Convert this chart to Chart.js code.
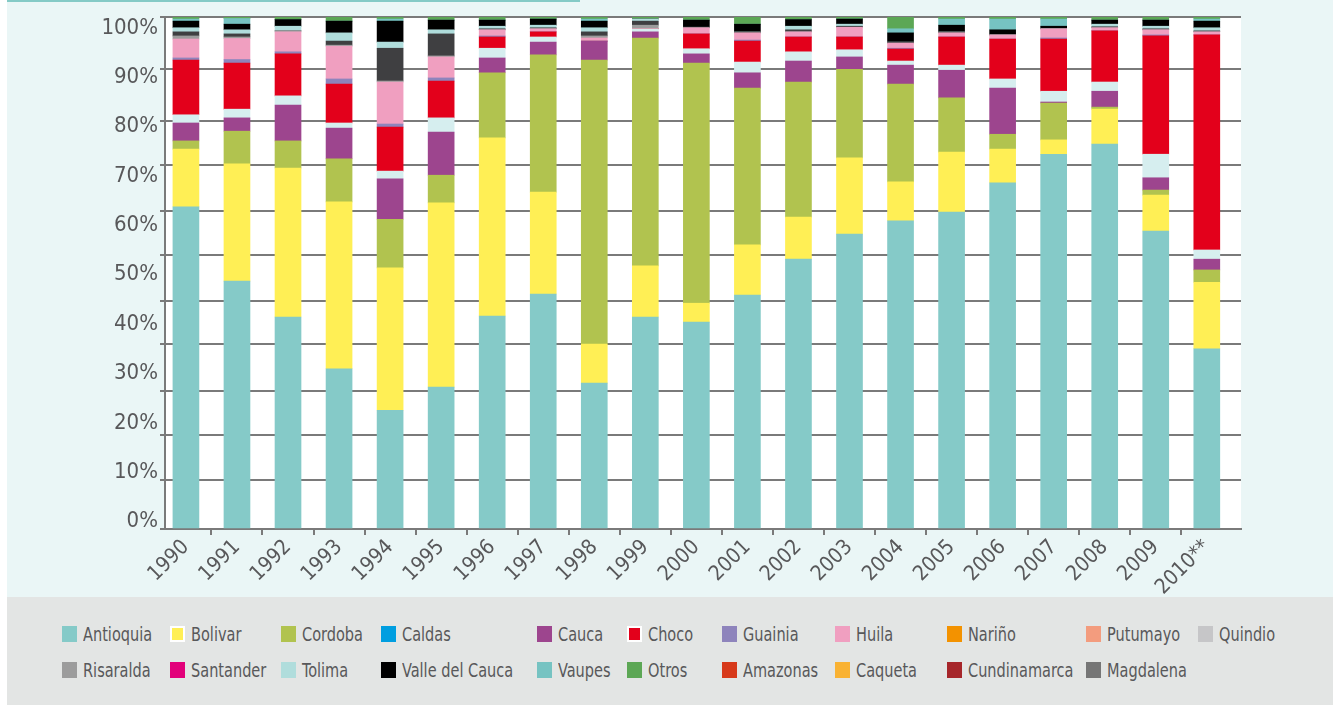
<!DOCTYPE html>
<html>
<head>
<meta charset="utf-8">
<title>Participación departamental</title>
<script src="https://cdn.jsdelivr.net/npm/chart.js@4.4.1/dist/chart.umd.min.js"></script>
<style>
  html, body { margin: 0; padding: 0; background: #fff; }
  body {
    width: 1342px; height: 705px; position: relative; overflow: hidden;
    font-family: 'DejaVu Sans Condensed', 'Liberation Sans Narrow', sans-serif;
  }
  #panel { position: absolute; left: 7px; top: 0; width: 1326px; height: 597px; background: #eaf6f6; }
  #topline { position: absolute; left: 7px; top: 0; width: 573px; height: 2px; background: #84cac6; }
  #chartBox { position: absolute; left: 7px; top: 0; width: 1326px; height: 597px; }
  #legendPanel { position: absolute; left: 7px; top: 597px; width: 1326px; height: 108px; background: #e3e5e4; }
  #legend {
    position: absolute; left: 55px; top: 19px;
    display: grid;
    grid-template-columns: 108px 111px 100px 156px 90px 95px 113px 112px 139px 112px auto;
    grid-auto-rows: 36px;
  }
  .item { display: flex; align-items: center; font-size: 19px; color: #58585a; white-space: nowrap; }
  .item .name { display: inline-block; transform: scaleX(0.85); transform-origin: left center; }
  .swatch { width: 15px; height: 16px; margin-right: 6px; box-sizing: border-box; flex: none; }
  .swatch.outlined { border: 2px solid #fff; }
</style>
</head>
<body>
<div id="panel"></div>
<div id="topline"></div>
<div id="chartBox"><canvas id="barChart"></canvas></div>
<div id="legendPanel"><div id="legend"></div></div>

<script>
// categories
const years = ["1990", "1991", "1992", "1993", "1994", "1995", "1996", "1997", "1998", "1999",
  "2000", "2001", "2002", "2003", "2004", "2005", "2006", "2007", "2008", "2009", "2010**"];

// axis ticks
const yTickValues = [0, 10, 20, 30, 40, 50, 60, 70, 80, 90, 100];
const yGridValues = [0, 9.6, 18.4, 26.9, 36.1, 44.5, 53.5, 62.1, 71.1, 79.7, 89.8, 100];

// share of each department per year (%), bottom of the stack first
const antioquia = [62.9, 48.4, 41.4, 31.3, 23.2, 27.7, 41.6, 45.9, 28.5, 41.4, 40.4, 45.7, 52.7, 57.6, 60.2, 61.9, 67.6, 73.2, 75.2, 58.2, 35.2];
const bolivar   = [11.3, 22.9, 29.1, 32.6, 27.8, 36.0, 34.8, 19.9, 7.6, 10.0, 3.7, 9.8, 8.2, 14.9, 7.6, 11.7, 6.6, 2.8, 6.8, 7.0, 13.0];
const cordoba   = [1.6, 6.4, 5.3, 8.4, 9.5, 5.4, 12.7, 26.8, 55.5, 44.5, 46.9, 30.6, 26.4, 17.3, 19.1, 10.6, 2.9, 7.2, 0.4, 1.0, 2.4];
const cauca     = [3.5, 2.6, 7.0, 6.0, 7.9, 8.4, 2.9, 2.5, 3.7, 1.2, 1.8, 3.0, 4.1, 2.4, 3.7, 5.4, 9.0, 0.2, 3.1, 2.4, 2.1];
const caldas    = [1.6, 1.7, 1.8, 1.0, 1.5, 2.8, 1.9, 1.0, 0, 0.6, 1.0, 2.1, 1.8, 1.4, 0.8, 1.0, 1.8, 2.1, 1.8, 4.6, 1.8];
const choco     = [10.7, 9.0, 8.2, 7.6, 8.6, 7.2, 2.2, 1.0, 0, 0, 2.9, 4.1, 2.9, 2.5, 2.35, 5.5, 7.8, 10.2, 10.0, 23.1, 42.0];
const guainia   = [0.4, 0.7, 0.4, 1.0, 0.6, 0.6, 0.2, 0, 0, 0, 0, 0.2, 0, 0, 0.15, 0, 0, 0.2, 0, 0.2, 0];
const huila     = [3.7, 4.1, 3.9, 6.4, 8.2, 4.1, 1.2, 0.6, 0.6, 0, 1.2, 1.4, 1.0, 1.9, 1.0, 0.8, 0.8, 1.8, 0.6, 1.0, 0.6];
const risaralda = [0.6, 0.3, 0.2, 0.2, 0.2, 0.2, 0, 0, 0.4, 0.7, 0, 0, 0, 0, 0, 0, 0, 0, 0, 0, 0];
const magdalena = [0.8, 0.6, 0, 0.8, 6.4, 4.3, 0.2, 0.2, 0.8, 0.8, 0.1, 0.2, 0.4, 0.2, 0.2, 0.2, 0, 0, 0.2, 0.2, 0.2];
const tolima    = [0.8, 0.8, 0.9, 1.6, 1.2, 0.8, 0.5, 0.5, 0.8, 0.4, 0, 0, 0.7, 0.4, 0, 0, 0, 0, 0.5, 0.5, 0.6];
const valle     = [1.3, 1.1, 1.3, 2.3, 4.1, 1.9, 1.2, 1.2, 1.3, 0, 1.4, 1.5, 1.3, 1.0, 1.8, 1.3, 1.0, 0.5, 0.8, 1.2, 1.3];
const vaupes    = [0.4, 1.1, 0, 0, 0.4, 0, 0, 0, 0.4, 0, 0, 0, 0, 0, 0.8, 1.2, 2.1, 1.4, 0, 0, 0.4];
const otros     = [0.4, 0.3, 0.5, 0.8, 0.4, 0.6, 0.6, 0.4, 0.4, 0.4, 0.6, 1.4, 0.5, 0.4, 2.3, 0.4, 0.4, 0.4, 0.6, 0.6, 0.4];

const seriesNames = ["Antioquia", "Bolivar", "Cordoba", "Cauca", "Caldas", "Choco", "Guainia", "Huila",
  "Risaralda", "Magdalena", "Tolima", "Valle del Cauca", "Vaupes", "Otros"];
const seriesValues = [antioquia, bolivar, cordoba, cauca, caldas, choco, guainia, huila,
  risaralda, magdalena, tolima, valle, vaupes, otros];
const seriesColors = ["#85cac8", "#ffef55", "#b1c34f", "#9d458e", "#d6eeef", "#e3001b", "#8e84bc", "#f09fc0",
  "#9c9c9c", "#3f3f41", "#b0dddc", "#000000", "#76c3c2", "#5ca755"];

// legend as printed under the chart
const legendNames = ["Antioquia", "Bolivar", "Cordoba", "Caldas", "Cauca", "Choco", "Guainia", "Huila", "Nariño", "Putumayo", "Quindio",
  "Risaralda", "Santander", "Tolima", "Valle del Cauca", "Vaupes", "Otros", "Amazonas", "Caqueta", "Cundinamarca", "Magdalena"];
const legendColors = ["#85cac8", "#ffef55", "#b1c34f", "#009ee0", "#9d458e", "#e3001b", "#8e84bc", "#f09fc0", "#f39200", "#f39c7e", "#c6c6c8",
  "#9c9c9c", "#e2007a", "#b0dddc", "#000000", "#76c3c2", "#5ca755", "#d7391a", "#f9b233", "#a6262a", "#767676"];
const legendOutlined = ["Bolivar", "Choco"];

const FONT = "'DejaVu Sans Condensed', 'Liberation Sans Narrow', sans-serif";
const AXIS_GRAY = "#7a7a7a";
const TEXT_GRAY = "#58585a";

// the printed labels sit a little inside the outer gridlines
const labelMin = -1.52;
const labelMax = 102.23;
// plot area runs a bit past the outer bars
const xMin = -0.41;
const xMax = 20.67;

const plotBackground = {
  id: "plotBackground",
  beforeDraw(chart) {
    const { ctx, chartArea } = chart;
    ctx.save();
    ctx.fillStyle = "#ffffff";
    ctx.fillRect(chartArea.left, chartArea.top, chartArea.right - chartArea.left, chartArea.bottom - chartArea.top);
    ctx.restore();
  }
};

const ctx = document.getElementById("barChart").getContext("2d");

new Chart(ctx, {
  type: "bar",
  data: {
    datasets: seriesNames.map((name, s) => ({
      label: name,
      data: seriesValues[s].map((v, i) => ({ x: i, y: v })),
      backgroundColor: seriesColors[s],
      borderWidth: 0,
      barThickness: 26
    }))
  },
  options: {
    responsive: true,
    maintainAspectRatio: false,
    animation: false,
    layout: { padding: { top: 17, right: 92, bottom: 0, left: 0 } },
    plugins: {
      legend: { display: false },
      tooltip: { enabled: false }
    },
    scales: {
      x: {
        type: "linear",
        stacked: true,
        offset: false,
        min: xMin,
        max: xMax,
        afterBuildTicks(scale) {
          const ticks = [];
          years.forEach((_, i) => {
            ticks.push({ value: i });
            if (i < years.length - 1) ticks.push({ value: i + 0.5 });
          });
          scale.ticks = ticks;
        },
        afterFit(scale) { scale.height = 68; },
        ticks: {
          autoSkip: false,
          minRotation: 45,
          maxRotation: 45,
          padding: 0,
          color: TEXT_GRAY,
          font: { family: FONT, size: 21 },
          callback: (v) => Number.isInteger(v) ? years[v] : ""
        },
        grid: {
          offset: false,
          drawOnChartArea: false,
          drawTicks: true,
          tickLength: 6,
          lineWidth: 2,
          color: (c) => (c.tick && Number.isInteger(c.tick.value)) ? "rgba(0,0,0,0)" : AXIS_GRAY
        },
        border: { display: true, color: AXIS_GRAY, width: 2 }
      },
      y: {
        type: "linear",
        stacked: true,
        min: 0,
        max: 100,
        weight: 0,
        afterBuildTicks(scale) { scale.ticks = yGridValues.map((v) => ({ value: v })); },
        afterFit(scale) { scale.width = 5; },
        ticks: { display: false },
        grid: { color: AXIS_GRAY, lineWidth: 2, drawTicks: true, tickLength: 5 },
        border: { display: true, color: AXIS_GRAY, width: 2 }
      },
      yLabel: {
        type: "linear",
        position: "left",
        min: labelMin,
        max: labelMax,
        weight: 1,
        afterBuildTicks(scale) { scale.ticks = yTickValues.map((v) => ({ value: v })); },
        afterFit(scale) { scale.width = 153; },
        ticks: {
          padding: 2,
          color: TEXT_GRAY,
          font: { family: FONT, size: 22 },
          callback: (v) => v + "%"
        },
        grid: { display: false, drawTicks: false },
        border: { display: false }
      }
    }
  },
  plugins: [plotBackground]
});

// legend
const legendEl = document.getElementById("legend");
legendNames.forEach((name, i) => {
  const item = document.createElement("div");
  item.className = "item";
  const sw = document.createElement("span");
  sw.className = "swatch" + (legendOutlined.includes(name) ? " outlined" : "");
  sw.style.background = legendColors[i];
  const label = document.createElement("span");
  label.className = "name";
  label.textContent = name;
  item.appendChild(sw);
  item.appendChild(label);
  legendEl.appendChild(item);
});
</script>
</body>
</html>
